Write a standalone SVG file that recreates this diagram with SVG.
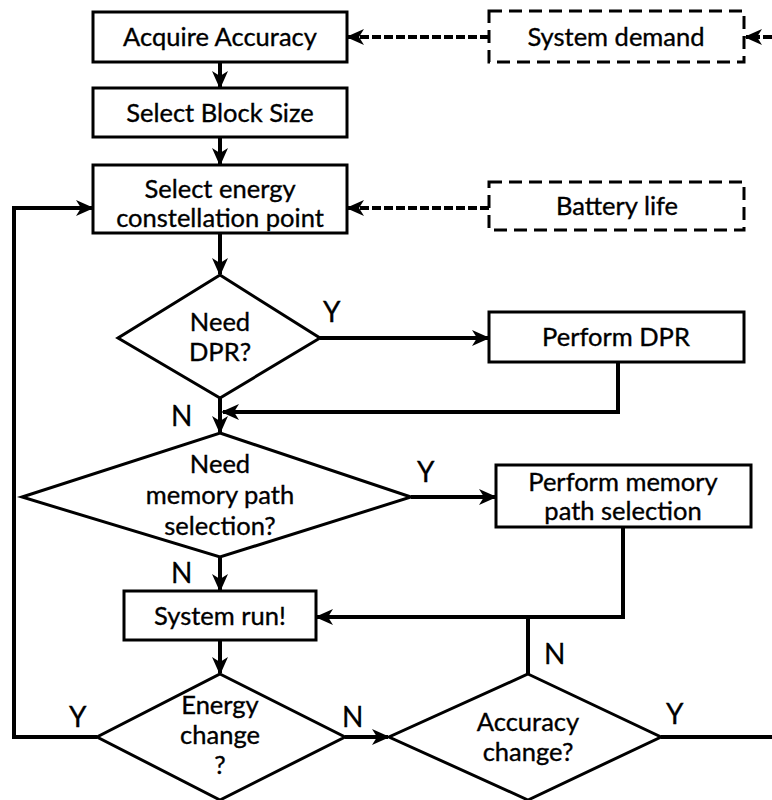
<svg xmlns="http://www.w3.org/2000/svg" width="772" height="800" viewBox="0 0 772 800">
  <style>
    .box{fill:#fff;stroke:#000;stroke-width:3}
    .dbox{fill:#fff;stroke:#000;stroke-width:3;stroke-dasharray:13 7}
    .dia{fill:#fff;stroke:#000;stroke-width:3;stroke-linejoin:miter}
    .t{font-family:Lato,"Liberation Sans",sans-serif;font-size:25.5px;text-anchor:middle;fill:#000;stroke:#000;stroke-width:0.35}
    .lbl{font-family:Lato,"Liberation Sans",sans-serif;font-size:28px;fill:#000;stroke:#000;stroke-width:0.3}
    .c{fill:none;stroke:#000;stroke-width:4}
    .d{fill:none;stroke:#000;stroke-width:4;stroke-dasharray:9 3}
  </style>
  <defs>
    <marker id="ah" viewBox="0 0 18 18" refX="16" refY="9" markerWidth="18" markerHeight="18" markerUnits="userSpaceOnUse" orient="auto">
      <path d="M0,1 L18,9 L0,17 L5,9 Z" fill="#000"/>
    </marker>
  </defs>
  <rect width="772" height="800" fill="#fff"/>

  <g id="connectors">
    <line class="c" x1="220" y1="62" x2="220" y2="87" marker-end="url(#ah)"/>
    <line class="c" x1="220" y1="137" x2="220" y2="164" marker-end="url(#ah)"/>
    <line class="c" x1="220" y1="233" x2="220" y2="274" marker-end="url(#ah)"/>
    <line class="c" x1="320" y1="338" x2="488" y2="338" marker-end="url(#ah)"/>
    <polyline class="c" points="618,362 618,412 223,412" marker-end="url(#ah)"/>
    <line class="c" x1="220" y1="398" x2="220" y2="432" marker-end="url(#ah)"/>
    <line class="c" x1="411" y1="497" x2="495" y2="497" marker-end="url(#ah)"/>
    <polyline class="c" points="623,527 623,617 317,617" marker-end="url(#ah)"/>
    <line class="c" x1="220" y1="557" x2="220" y2="590" marker-end="url(#ah)"/>
    <line class="c" x1="220" y1="640" x2="220" y2="673" marker-end="url(#ah)"/>
    <line class="c" x1="345" y1="737" x2="388" y2="737" marker-end="url(#ah)"/>
    <line class="c" x1="528" y1="674" x2="528" y2="615"/>
    <line class="c" x1="661" y1="737" x2="772" y2="737"/>
    <polyline class="c" points="97,737 14,737 14,208 92,208" marker-end="url(#ah)"/>
    <line class="d" x1="489" y1="37" x2="348" y2="37" marker-end="url(#ah)"/>
    <line class="d" x1="772" y1="37" x2="746" y2="37" marker-end="url(#ah)"/>
    <line class="d" x1="489" y1="208" x2="348" y2="208" marker-end="url(#ah)"/>
  </g>

  <g id="acquire-accuracy">
    <rect class="box" x="93" y="12" width="254" height="50"/>
    <text class="t" x="220" y="46">Acquire Accuracy</text>
  </g>
  <g id="select-block-size">
    <rect class="box" x="93" y="88" width="254" height="49"/>
    <text class="t" x="220" y="122">Select Block Size</text>
  </g>
  <g id="select-energy-point">
    <rect class="box" x="93" y="165" width="254" height="68"/>
    <text class="t" x="220" y="198">Select energy</text>
    <text class="t" x="220" y="227">constellation point</text>
  </g>
  <g id="system-demand">
    <rect class="dbox" x="489" y="11" width="255" height="51"/>
    <text class="t" x="616" y="46">System demand</text>
  </g>
  <g id="battery-life">
    <rect class="dbox" x="489" y="182" width="255" height="48"/>
    <text class="t" x="617" y="215">Battery life</text>
  </g>
  <g id="need-dpr">
    <polygon class="dia" points="220,275 320,338 220,398 118,338"/>
    <text class="t" x="220" y="331">Need</text>
    <text class="t" x="220" y="361">DPR?</text>
    <text class="lbl" x="323" y="322">Y</text>
    <text class="lbl" x="171" y="426">N</text>
  </g>
  <g id="perform-dpr">
    <rect class="box" x="489" y="312" width="255" height="50"/>
    <text class="t" x="616" y="346">Perform DPR</text>
  </g>
  <g id="need-memory-path">
    <polygon class="dia" points="220,433 411,497 220,557 22,497"/>
    <text class="t" x="220" y="473">Need</text>
    <text class="t" x="220" y="504">memory path</text>
    <text class="t" x="220" y="535">selection?</text>
    <text class="lbl" x="417" y="482">Y</text>
    <text class="lbl" x="171" y="583">N</text>
  </g>
  <g id="perform-memory-path">
    <rect class="box" x="496" y="465" width="255" height="62"/>
    <text class="t" x="623" y="491">Perform memory</text>
    <text class="t" x="623" y="520">path selection</text>
  </g>
  <g id="system-run">
    <rect class="box" x="124" y="591" width="192" height="49"/>
    <text class="t" x="220" y="625">System run!</text>
  </g>
  <g id="energy-change">
    <polygon class="dia" points="220,674 345,737 220,800 97,737"/>
    <text class="t" x="220" y="714">Energy</text>
    <text class="t" x="220" y="744">change</text>
    <text class="t" x="220" y="774">?</text>
    <text class="lbl" x="69" y="727">Y</text>
    <text class="lbl" x="342" y="727">N</text>
  </g>
  <g id="accuracy-change">
    <polygon class="dia" points="528,674 661,737 528,800 389,737"/>
    <text class="t" x="528" y="731">Accuracy</text>
    <text class="t" x="528" y="761">change?</text>
    <text class="lbl" x="544" y="664">N</text>
    <text class="lbl" x="666" y="724">Y</text>
  </g>
</svg>
